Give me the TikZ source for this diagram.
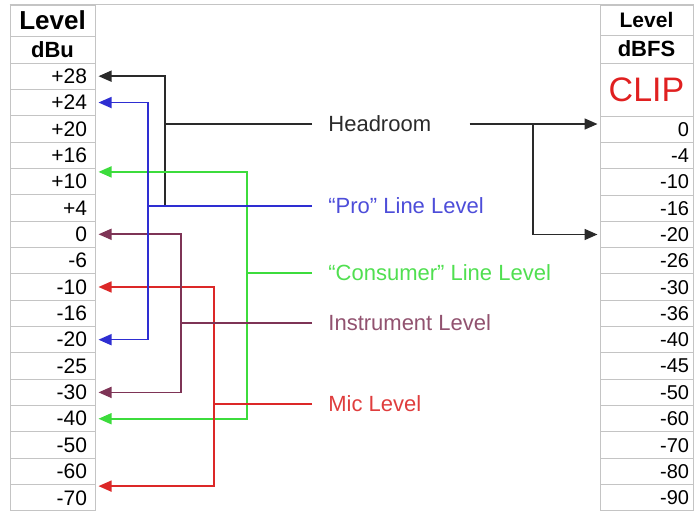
\documentclass[tikz,border=0pt]{standalone}
\usepackage{fontspec}
\setmainfont{Liberation Sans}
\usepackage{tikz}
\usetikzlibrary{positioning,arrows.meta,calc}
\definecolor{grid}{HTML}{C4C4C4}
\definecolor{hdblack}{HTML}{2A2A2A}
\definecolor{problue}{HTML}{2E2ED2}
\definecolor{congreen}{HTML}{3CDC3C}
\definecolor{instpurple}{HTML}{7E3456}
\definecolor{micred}{HTML}{DC2828}
\definecolor{clipred}{HTML}{E02020}

\begin{document}
\begin{tikzpicture}[
    x=0.5pt, y=-0.5pt,
    cell/.style={draw=grid, line width=0.5pt, inner ysep=0pt, minimum height=13.175pt, align=right, font=\fontsize{10.5}{12}\selectfont},
    lcell/.style={cell, inner xsep=4pt, text width=34.5pt},
    rcell/.style={cell, inner xsep=2pt, text width=42.5pt, minimum height=13.165pt, font=\fontsize{10}{12}\selectfont},
    head/.style={draw=grid, line width=0.5pt, inner sep=0pt, align=center, font=\bfseries\fontsize{11}{12}\selectfont},
    lab/.style={anchor=west, inner xsep=8pt, font=\fontsize{11}{13}\selectfont},
    wire/.style={line width=0.8pt},
    arr/.style={wire, -{Triangle[length=6.5pt,width=5.5pt]}, shorten >=1.5pt}
  ]
    \useasboundingbox (0,0) rectangle (694,511);

    % dBu table
    \node[head, minimum width=42.5pt, minimum height=15.5pt, font=\bfseries\fontsize{13}{14}\selectfont] (lhead) at (52.5,20.5) {Level};
    \node[head, minimum width=42.5pt, minimum height=13.5pt] (lunit) at (52.5,49.5) {dBu};
    \foreach \v [count=\i] in {+28,+24,+20,+16,+10,+4,0,-6,-10,-16,-20,-25,-30,-40,-50,-60,-70}
      \node[lcell] (l\i) at (52.5,{63+26.35*(\i-0.5)}) {\v};

    % dBFS table
    \node[head, minimum width=46.5pt, minimum height=15pt, font=\bfseries\fontsize{10.5}{12}\selectfont] (rhead) at (646.5,20) {Level};
    \node[head, minimum width=46.5pt, minimum height=14pt] (runit) at (646.5,49) {dBFS};
    \node[head, minimum width=46.5pt, minimum height=26.5pt, font=\fontsize{17}{18}\selectfont, text=clipred] (clip) at (646.5,89.5) {CLIP};
    \foreach \v [count=\i] in {0,-4,-10,-16,-20,-26,-30,-36,-40,-45,-50,-60,-70,-80,-90}
      \node[rcell] (r\i) at (646.5,{116+26.33*(\i-0.5)}) {\v};

    \draw[grid, line width=0.5pt] (lhead.north west) -- (rhead.north east);

    % labels
    \node[lab, text=hdblack] (hr) at (312,124) {Headroom};
    \node[lab, text=problue!85] (pro) at (312,206) {“Pro” Line Level};
    \node[lab, text=congreen!90!white] (con) at (312,273) {“Consumer” Line Level};
    \node[lab, text=instpurple!85] (ins) at (312,323) {Instrument Level};
    \node[lab, text=micred!90] (mic) at (312,404) {Mic Level};

    \coordinate (pbus) at (148,0);
    \coordinate (hbus) at (165,0);
    \coordinate (ibus) at (181,0);
    \coordinate (mbus) at (214,0);
    \coordinate (cbus) at (247,0);
    \coordinate (rbus) at (533,0);

    % headroom
    \draw[wire, hdblack] (hr.west) -- (hbus |- hr.west);
    \draw[arr, hdblack] (hbus |- pro.west) |- (l1.east);
    \draw[arr, hdblack, shorten <=11pt, shorten >=1pt] (hr.east) -- (hr.east -| r1.west);
    \draw[arr, hdblack, shorten >=1pt] (rbus |- hr.east) |- (r5.west);

    % consumer
    \draw[wire, congreen] (con.west) -- (cbus |- con.west);
    \draw[arr, congreen] (cbus |- con.west) |- ([yshift=-2pt]l5.north east);
    \draw[arr, congreen] (cbus |- con.west) |- (l14.east);

    % mic
    \draw[wire, micred] (mic.west) -- (mbus |- mic.west);
    \draw[arr, micred] (mbus |- mic.west) |- (l9.east);
    \draw[arr, micred] (mbus |- mic.west) |- ([yshift=-1pt]l17.north east);

    % instrument
    \draw[wire, instpurple] (ins.west) -- (ibus |- ins.west);
    \draw[arr, instpurple] (ibus |- ins.west) |- (l7.east);
    \draw[arr, instpurple] (ibus |- ins.west) |- (l13.east);

    % pro
    \draw[wire, problue] (pro.west) -- (pbus |- pro.west);
    \draw[arr, problue] (pbus |- pro.west) |- (l2.east);
    \draw[arr, problue] (pbus |- pro.west) |- (l11.east);
  \end{tikzpicture}
\end{document}
